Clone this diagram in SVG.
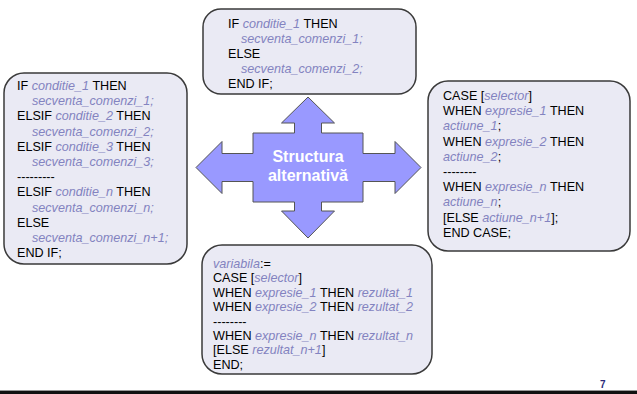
<svg xmlns="http://www.w3.org/2000/svg" width="637" height="394" viewBox="0 0 637 394">
<style>
.box{fill:#EAEAF4;stroke:#3a3a3a;stroke-width:1.5}
.t{font-family:"Liberation Sans",Arial,sans-serif;font-size:12.6px;fill:#000}
.i{font-style:italic;fill:#8383C0}
.c{font-family:"Liberation Sans",Arial,sans-serif;font-size:16px;font-weight:bold;fill:#fff;text-anchor:middle}
</style>
<rect width="637" height="394" fill="#fff"/>
<g id="connectors"/>
<g id="center">
<polygon points="308,97 334.5,123 321.5,123 321.5,133 363,133 363,153.5 395,153.5 395,141.5 421,167.5 395,193.5 395,181.5 363,181.5 363,202 321.5,202 321.5,211 334.5,211 308,238 281.5,211 294.5,211 294.5,202 253,202 253,181.5 222,181.5 222,193.5 196,167.5 222,141.5 222,153.5 253,153.5 253,133 294.5,133 294.5,123 281.5,123" fill="#9999FF" stroke="#555" stroke-width="1"/>
<text class="c" x="308" y="162">Structura</text>
<text class="c" x="308" y="181">alternativă</text>
</g>
<g id="top">
<rect class="box" x="203" y="9" width="213" height="85" rx="18"/>
<text class="t" x="228" y="28">IF <tspan class="i">conditie_1</tspan> THEN</text>
<text class="t i" x="241" y="43">secventa_comenzi_1;</text>
<text class="t" x="228" y="58">ELSE</text>
<text class="t i" x="241" y="73">secventa_comenzi_2;</text>
<text class="t" x="228" y="88">END IF;</text>
</g>
<g id="left">
<rect class="box" x="4" y="73" width="183" height="191" rx="20"/>
<text class="t" x="17" y="90">IF <tspan class="i">conditie_1</tspan> THEN</text>
<text class="t i" x="32" y="105.2">secventa_comenzi_1;</text>
<text class="t" x="17" y="120.4">ELSIF <tspan class="i">conditie_2</tspan> THEN</text>
<text class="t i" x="32" y="135.6">secventa_comenzi_2;</text>
<text class="t" x="17" y="150.8">ELSIF <tspan class="i">conditie_3</tspan> THEN</text>
<text class="t i" x="32" y="166">secventa_comenzi_3;</text>
<text class="t" x="17" y="181.2">---------</text>
<text class="t" x="17" y="196.4">ELSIF <tspan class="i">conditie_n</tspan> THEN</text>
<text class="t i" x="32" y="211.6">secventa_comenzi_n;</text>
<text class="t" x="17" y="226.8">ELSE</text>
<text class="t i" x="32" y="242">secventa_comenzi_n+1;</text>
<text class="t" x="17" y="257.2">END IF;</text>
</g>
<g id="right">
<rect class="box" x="428" y="81" width="202" height="170" rx="20"/>
<text class="t" x="443" y="100">CASE [<tspan class="i">selector</tspan>]</text>
<text class="t" x="443" y="115.2">WHEN <tspan class="i">expresie_1</tspan> THEN</text>
<text class="t" x="443" y="130.4"><tspan class="i">actiune_1</tspan>;</text>
<text class="t" x="443" y="145.6">WHEN <tspan class="i">expresie_2</tspan> THEN</text>
<text class="t" x="443" y="160.8"><tspan class="i">actiune_2</tspan>;</text>
<text class="t" x="443" y="176">--------</text>
<text class="t" x="443" y="191.2">WHEN <tspan class="i">expresie_n</tspan> THEN</text>
<text class="t" x="443" y="206.4"><tspan class="i">actiune_n</tspan>;</text>
<text class="t" x="443" y="221.6">[ELSE <tspan class="i">actiune_n+1</tspan>];</text>
<text class="t" x="443" y="236.8">END CASE;</text>
</g>
<g id="bottom">
<rect class="box" x="202" y="245" width="230" height="129" rx="20"/>
<text class="t" x="213" y="268"><tspan class="i">variabila</tspan>:=</text>
<text class="t" x="213" y="282.4">CASE [<tspan class="i">selector</tspan>]</text>
<text class="t" x="213" y="296.8">WHEN <tspan class="i">expresie_1</tspan> THEN <tspan class="i">rezultat_1</tspan></text>
<text class="t" x="213" y="311.2">WHEN <tspan class="i">expresie_2</tspan> THEN <tspan class="i">rezultat_2</tspan></text>
<text class="t" x="213" y="325.6">--------</text>
<text class="t" x="213" y="340">WHEN <tspan class="i">expresie_n</tspan> THEN <tspan class="i">rezultat_n</tspan></text>
<text class="t" x="213" y="354.4">[ELSE <tspan class="i">rezultat_n+1</tspan>]</text>
<text class="t" x="213" y="368.8">END;</text>
</g>
<g id="footer">
<rect x="0" y="390" width="637" height="1" fill="#999"/>
<rect x="0" y="391" width="637" height="3" fill="#111"/>
<text x="600" y="388" font-family="Liberation Sans,Arial,sans-serif" font-size="10" font-weight="bold" fill="#2B2B7A">7</text>
</g>
</svg>
